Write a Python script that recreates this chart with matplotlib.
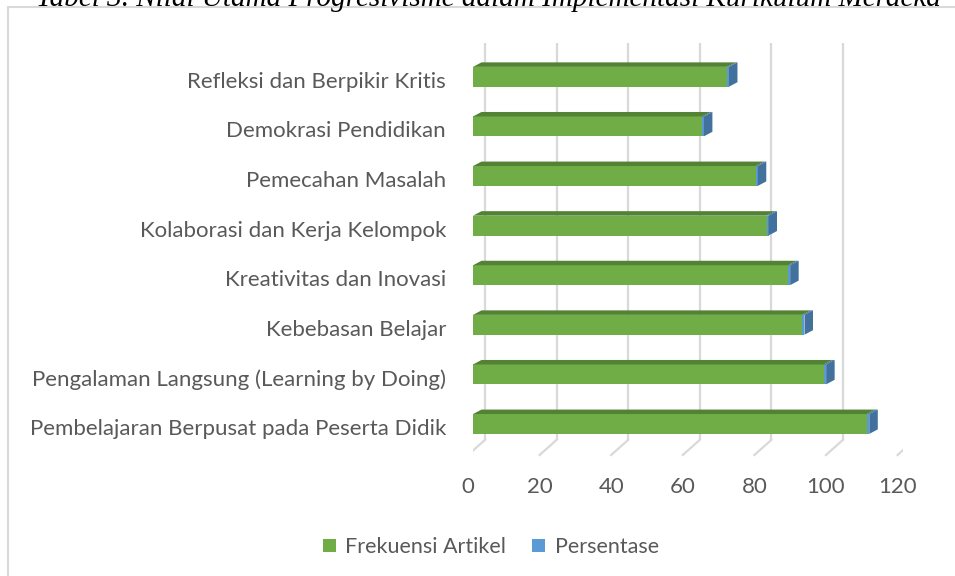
import numpy as np
import matplotlib
matplotlib.use("Agg")
import matplotlib.pyplot as plt
from matplotlib.patches import Rectangle, Polygon, Patch

# categories listed bottom -> top (Excel order)
kategori = [
    "Pembelajaran Berpusat pada Peserta Didik",
    "Pengalaman Langsung (Learning by Doing)",
    "Kebebasan Belajar",
    "Kreativitas dan Inovasi",
    "Kolaborasi dan Kerja Kelompok",
    "Pemecahan Masalah",
    "Demokrasi Pendidikan",
    "Refleksi dan Berpikir Kritis",
]
frekuensi = [110, 98, 92, 88, 82, 79, 64, 71]
persentase = [0.7, 0.65, 0.6, 0.6, 0.55, 0.55, 0.5, 0.5]
xticks = [0, 20, 40, 60, 80, 100, 120]

judul = "Tabel 3. Nilai Utama Progresivisme dalam Implementasi Kurikulum Merdeka"

GREEN, GREEN_TOP = "#70AD47", "#548235"
BLUE, BLUE_DARK = "#5B9BD5", "#41719C"
GRID = "#D9D9D9"
TXT = "#595959"
FONT = "Lato"
FS = 16

fig = plt.figure(figsize=(9.55, 5.76), dpi=100)
ax = fig.add_axes([0.4953, 0.1778, 0.4498, 0.775])
ax.set_xlim(0, 120)
ax.set_ylim(-1, 8)
ax.axis("off")

# pixel -> data unit helpers (linear scales)
p0 = ax.transData.transform((0, 0))
p1 = ax.transData.transform((1, 1))
sx, sy = p1[0] - p0[0], p1[1] - p0[1]
def dx(px):
    return px / sx
def dy(px):
    return px / sy

# 3D box: floor front / back and wall top (data y)
floor_front = -0.625
floor_back = -0.32
wall_top = 7.68
front_shift = dx(-5)   # floor front plane relative to bar face
back_shift = dx(12)    # back wall relative to bar face

for v in xticks:
    ax.plot([v + back_shift] * 2, [floor_back, wall_top], color=GRID, lw=1.6,
            solid_capstyle="butt", zorder=1)
    ax.plot([v + front_shift, v + back_shift], [floor_front, floor_back],
            color=GRID, lw=1.6, zorder=1)
    ax.text(v + front_shift, floor_front - dy(32), str(v), ha="center", va="center",
            fontsize=FS, color=TXT, family=FONT)

# bars
h = 0.4
ddx, ddy = dx(8.5), dy(4.5)
for i, (g, b) in enumerate(zip(frekuensi, persentase)):
    y0, y1 = i - h / 2, i + h / 2
    ax.add_patch(Rectangle((0, y0), g, h, fc=GREEN, ec="none", zorder=3))
    ax.add_patch(Rectangle((g, y0), b, h, fc=BLUE, ec="none", zorder=3))
    ax.add_patch(Polygon([(0, y1), (g, y1), (g + ddx, y1 + ddy), (ddx, y1 + ddy)],
                         closed=True, fc=GREEN_TOP, ec="none", zorder=3))
    ax.add_patch(Polygon([(g, y1), (g + b, y1), (g + b + ddx, y1 + ddy), (g + ddx, y1 + ddy)],
                         closed=True, fc=BLUE_DARK, ec="none", zorder=3))
    e = g + b
    ax.add_patch(Polygon([(e, y0), (e + ddx, y0 + ddy), (e + ddx, y1 + ddy), (e, y1)],
                         closed=True, fc=BLUE_DARK, ec="none", zorder=3))
    ax.text(dx(-27), i - dy(5), kategori[i], ha="right", va="center",
            fontsize=FS, color=TXT, family=FONT)

# chart border
fig.patches.append(Rectangle((8 / 955, -0.1), 1.2, (576 - 7) / 576 + 0.1,
                             transform=fig.transFigure, fill=False, ec=GRID, lw=1.5))

# caption above the chart, cut off by the top edge as in the source
fig.text(0.5115, (576 - 6) / 576, judul, ha="center", va="baseline", fontsize=21,
         family="Liberation Serif", style="italic", color="black")

handles = [Patch(fc=GREEN, label="Frekuensi Artikel"), Patch(fc=BLUE, label="Persentase")]
fig.legend(handles=handles, loc="center", bbox_to_anchor=(0.514, 0.05), ncol=2,
           frameon=False, handlelength=0.6, handleheight=0.6, handletextpad=0.45,
           columnspacing=1.2, prop={"family": FONT, "size": 15.5}, labelcolor=TXT)

fig.savefig("out.png", dpi=100)
